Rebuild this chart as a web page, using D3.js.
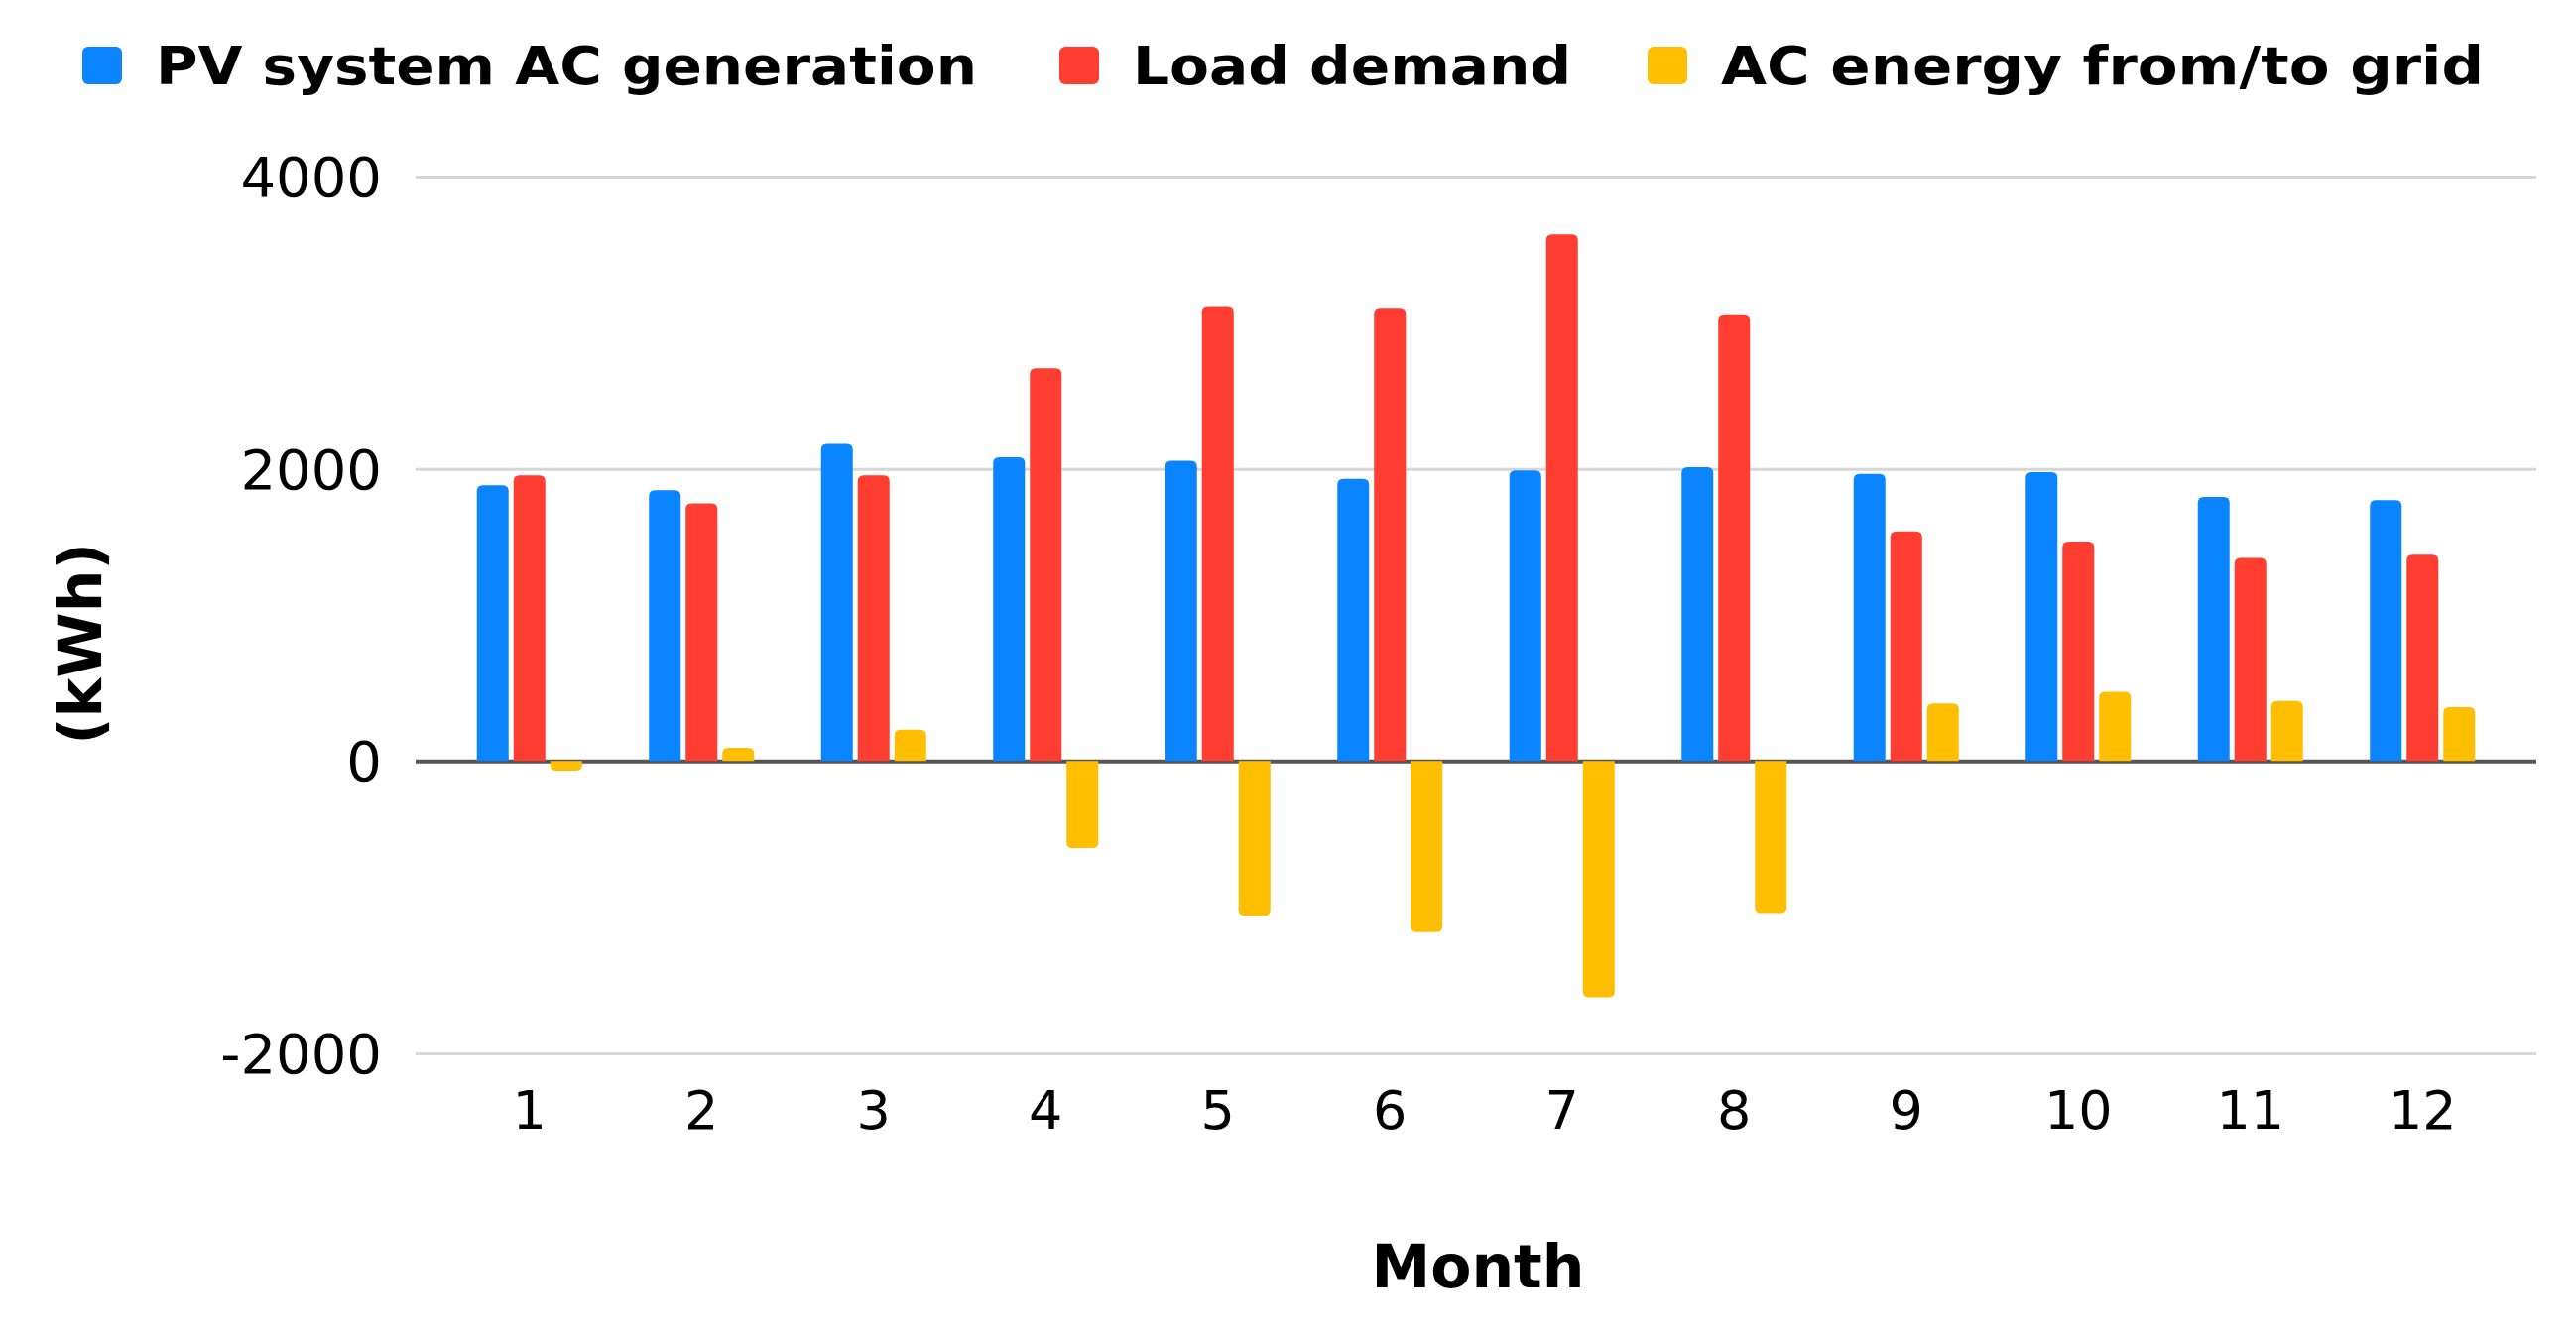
<!DOCTYPE html>
<html>
<head>
    <script src="https://d3js.org/d3.v7.min.js" charset="utf-8"></script>
    <style>
        body { margin: 0; background: #fff; }
        text { font-family: "DejaVu Sans", Verdana, sans-serif; fill: #000; }
    </style>
</head>
<body>
<script>
    // data
    var months = ["1", "2", "3", "4", "5", "6", "7", "8", "9", "10", "11", "12"];
    var seriesNames = ["PV system AC generation", "Load demand", "AC energy from/to grid"];
    var pvGeneration = [1887, 1853, 2170, 2079, 2056, 1932, 1989, 2011, 1966, 1977, 1808, 1785];
    var loadDemand = [1955, 1763, 1955, 2689, 3107, 3096, 3605, 3051, 1571, 1503, 1390, 1412];
    var gridEnergy = [-65, 90, 215, -595, -1058, -1170, -1616, -1040, 395, 474, 412, 368];
    var yTicks = [-2000, 0, 2000, 4000];
    var colors = ["#0A84FF", "#FF3D30", "#FFBE00"];

    const W = 2597, H = 1354;
    const svg = d3.select("body").append("svg")
        .attr("width", W).attr("height", H);

    var yScale = d3.scaleLinear().domain([-2000, 4000]).range([1062, 178]);
    var xScale = d3.scaleBand().domain(months).range([447, 2529]);
    var inner = d3.scaleBand().domain(d3.range(3)).range([-53, 53]).paddingInner(0.135);

    // grid
    var gridLeft = 419, gridRight = 2557;
    svg.append("g")
        .attr("transform", "translate(" + gridRight + ",0)")
        .call(d3.axisLeft(yScale).tickValues(yTicks).tickSize(gridRight - gridLeft).tickFormat(""))
        .call(g => g.select(".domain").remove())
        .call(g => g.selectAll("line")
            .attr("stroke", d => d === 0 ? "#555" : "#d6d6d6")
            .attr("stroke-width", d => d === 0 ? 4 : 3));

    // y labels
    svg.append("g").selectAll("text")
        .data(yTicks).enter().append("text")
        .attr("x", 385)
        .attr("y", d => yScale(d))
        .attr("dy", "0.36em")
        .attr("text-anchor", "end")
        .style("font-size", "56px")
        .text(d => d);

    // bars with rounded far end
    var barPath = (x, w, v) => {
        var y0 = yScale(0), y1 = yScale(v);
        var r = Math.min(6, Math.abs(y1 - y0));
        var k = v >= 0 ? 1 : -1;
        return "M" + x + "," + y0 + "V" + (y1 + k * r) + "Q" + x + "," + y1 + " " + (x + r) + "," + y1 +
            "H" + (x + w - r) + "Q" + (x + w) + "," + y1 + " " + (x + w) + "," + (y1 + k * r) + "V" + y0 + "Z";
    };

    var allSeries = [pvGeneration, loadDemand, gridEnergy];
    allSeries.forEach((vals, s) => {
        svg.append("g").selectAll("path")
            .data(vals).enter().append("path")
            .attr("d", (v, i) => barPath(xScale(months[i]) + xScale.bandwidth() / 2 + inner(s), inner.bandwidth(), v))
            .attr("fill", colors[s]);
    });

    // x labels
    svg.append("g").selectAll("text")
        .data(months).enter().append("text")
        .attr("x", d => xScale(d) + xScale.bandwidth() / 2)
        .attr("y", 1119)
        .attr("dy", "0.36em")
        .attr("text-anchor", "middle")
        .style("font-size", "54px")
        .text(d => d);

    // axis titles
    svg.append("text")
        .attr("x", 1490).attr("y", 1276).attr("dy", "0.36em")
        .attr("text-anchor", "middle")
        .style("font-size", "60px").style("font-weight", "bold")
        .text("Month");

    svg.append("text")
        .attr("transform", "translate(80,649) rotate(-90)")
        .attr("dy", "0.36em")
        .attr("text-anchor", "middle")
        .style("font-size", "60px").style("font-weight", "bold")
        .text("(kWh)");

    // legend
    var legendX = [83, 1068, 1661];
    var legendTextW = [828, 442, 769];
    var legend = svg.append("g").selectAll("g")
        .data(seriesNames).enter().append("g")
        .attr("transform", (d, i) => "translate(" + legendX[i] + ",66)");
    legend.append("rect")
        .attr("x", 0).attr("y", -19).attr("width", 40).attr("height", 38)
        .attr("rx", 6)
        .attr("fill", (d, i) => colors[i]);
    legend.append("text")
        .attr("x", 74).attr("dy", "0.36em")
        .style("font-size", "54px").style("font-weight", "bold")
        .attr("textLength", (d, i) => legendTextW[i])
        .attr("lengthAdjust", "spacingAndGlyphs")
        .text(d => d);
</script>
</body>
</html>
